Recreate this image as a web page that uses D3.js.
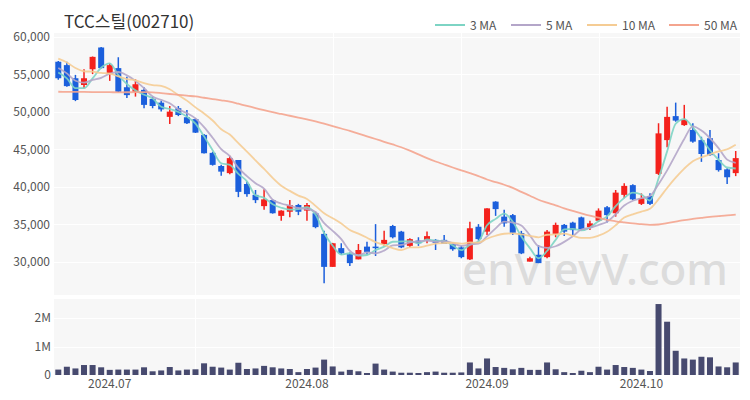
<!DOCTYPE html>
<html><head><meta charset="utf-8">
<script src="https://cdn.jsdelivr.net/npm/d3@7"></script>
<style>body{margin:0;background:#fff;} svg{display:block;font-family:"Noto Sans CJK KR","Noto Sans",sans-serif;}</style>
</head><body><svg id="c" width="750" height="400"></svg>
<script>
const dates = [
"2024-06-21","2024-06-24","2024-06-25","2024-06-26","2024-06-27","2024-06-28",
"2024-07-01","2024-07-02","2024-07-03","2024-07-04","2024-07-05","2024-07-08","2024-07-09","2024-07-10","2024-07-11","2024-07-12",
"2024-07-15","2024-07-16","2024-07-17","2024-07-18","2024-07-19","2024-07-22","2024-07-23","2024-07-24","2024-07-25","2024-07-26",
"2024-07-29","2024-07-30","2024-07-31",
"2024-08-01","2024-08-02","2024-08-05","2024-08-06","2024-08-07","2024-08-08","2024-08-09","2024-08-12","2024-08-13","2024-08-14",
"2024-08-16","2024-08-19","2024-08-20","2024-08-21","2024-08-22","2024-08-23","2024-08-26","2024-08-27","2024-08-28","2024-08-29","2024-08-30",
"2024-09-02","2024-09-03","2024-09-04","2024-09-05","2024-09-06","2024-09-09","2024-09-10","2024-09-11","2024-09-12","2024-09-13",
"2024-09-19","2024-09-20","2024-09-23","2024-09-24","2024-09-25","2024-09-26","2024-09-27","2024-09-30",
"2024-10-02","2024-10-04","2024-10-07","2024-10-08","2024-10-10","2024-10-11","2024-10-14","2024-10-15","2024-10-16","2024-10-17","2024-10-18","2024-10-21"];

const opens = [56700,56250,54500,53600,55700,58600,55050,55850,53300,52700,52950,51750,51250,49350,50500,49300,49050,46950,44550,42800,
41850,43600,40400,38950,37450,38250,36150,36700,37600,36850,36500,33750,29350,31850,31050,30350,32050,32050,32400,34800,
34050,32150,32850,32850,32950,32950,32400,31950,30350,34700,34050,38050,36050,36250,33850,30050,30950,30650,33750,34950,
35250,35950,34650,35500,37300,36500,38950,40250,37750,38800,41750,46250,49450,48250,47600,46250,46500,43600,42350,41850];
const highs = [56800,56700,54950,55700,57400,58650,56500,57300,54700,54350,53300,52050,51500,50800,50800,50250,49150,47050,44700,42950,
44150,43600,40700,39600,39700,38350,36900,38250,37750,37850,36700,34150,32550,32500,31250,32400,32700,35050,34150,34950,
34150,33150,33300,34050,33050,33600,32500,32150,35350,35050,37150,38100,36950,36400,34150,30700,32250,34250,35250,35050,
35350,36050,35500,37150,37450,39600,40500,40350,39150,39150,48500,50700,51250,50950,48500,46700,47600,44500,42500,44800];
const lows = [54300,53350,51450,53150,55050,55800,54150,52650,51850,52050,50500,50500,50050,48400,49450,48400,47200,44450,42850,41500,
41700,38650,38700,37850,36950,36450,35500,35950,36250,35500,34500,27150,29350,30950,29450,30350,30950,30800,32150,33150,
31850,31950,32150,32500,31600,32400,31500,30500,30250,32850,33600,36150,34700,33600,31050,30050,29850,30500,33300,33450,
33600,34250,34250,35350,35250,36050,38500,38250,37600,37600,41600,45300,48700,48150,45900,43350,44150,42050,40400,41450];
const closes = [54500,53450,51600,54500,57350,55850,56250,52700,52250,53700,50950,50800,50350,50050,49600,48500,47250,44500,42950,42050,
43850,39350,39050,38250,38350,36500,36850,37600,36700,37600,34650,29350,32500,31150,29850,31600,31350,31850,32950,33300,
31950,33050,32500,33450,32550,32400,31700,30650,34500,33050,37150,37050,35150,33900,31150,30500,29850,34050,34950,34050,
34250,34350,35150,36850,36250,39250,40150,38350,38500,37750,47150,49350,48850,48950,46050,44400,44250,42250,41300,43850];
const volumes = [190000,290000,230000,350000,350000,270000,180000,190000,190000,190000,270000,130000,160000,280000,160000,190000,200000,410000,290000,260000,
190000,430000,210000,230000,320000,270000,230000,210000,100000,210000,260000,540000,300000,120000,180000,130000,70000,400000,190000,120000,
80000,80000,70000,100000,120000,80000,80000,90000,440000,230000,580000,280000,250000,200000,250000,180000,180000,440000,200000,100000,
70000,150000,100000,290000,190000,350000,280000,250000,190000,140000,2490000,1870000,850000,580000,540000,640000,620000,300000,270000,440000];
// closes before the first visible day (used only for the 3/5/10 day averages)
const priorCloses = [58500,59000,58800,58000,57500,57000,56500,55800,55500];
// 50-day moving average
const ma50 = [52700,52690,52680,52670,52660,52650,52640,52620,52630,52640,52650,52620,52520,52400,52290,52170,52070,51900,51730,51560,
51380,51100,50810,50530,50240,49970,49740,49500,49260,49020,48760,48450,48130,47800,47480,47130,46760,46400,46030,45670,
45300,44850,44350,43850,43400,43000,42600,42220,41840,41450,41000,40650,40300,39880,39350,38840,38300,37920,37560,37160,
36810,36480,36170,35900,35620,35430,35280,35140,35040,34950,35000,35190,35380,35590,35740,35890,36030,36120,36210,36330];

const priceTicks = [30000,35000,40000,45000,50000,55000,60000];
const volumeTicks = [0,1000000,2000000];
const monthTicks = ["2024-07-01","2024-08-01","2024-09-02","2024-10-02"];
const monthLabels = ["2024.07","2024.08","2024.09","2024.10"];
const gridDays = ["2024-07-15","2024-08-06","2024-08-28","2024-09-24"];
const maNames = ["3 MA","5 MA","10 MA","50 MA"];
const maColors = ["#7dd4c4","#b4a6c9","#f5cc94","#f4a48e"];

const svg = d3.select("#c");
const L = 54, R = 740;
const mainTop = 33, mainBot = 295, volTop = 299, volBot = 375;
const upColor = "#f4211c", downColor = "#1b5fdc";

const x = d3.scaleBand().domain(dates).range([L, R]).paddingInner(0.3).paddingOuter(0.15);
const cx = d => x(d) + x.bandwidth()/2;
const y = d3.scaleLinear().domain([25600, 60533]).range([mainBot, mainTop]);
const yv = d3.scaleLinear().domain([0, 2667000]).range([volBot, volTop]);

// backgrounds
svg.append("rect").attr("x",L).attr("y",mainTop).attr("width",R-L).attr("height",mainBot-mainTop).attr("fill","#f7f7f7");
svg.append("rect").attr("x",L).attr("y",volTop).attr("width",R-L).attr("height",volBot-volTop).attr("fill","#f7f7f7");

// grid
const g = svg.append("g").attr("stroke","#ffffff").attr("stroke-width",1);
priceTicks.forEach(t => g.append("line").attr("x1",L).attr("x2",R).attr("y1",Math.round(y(t))+0.5).attr("y2",Math.round(y(t))+0.5));
volumeTicks.slice(1).forEach(t => g.append("line").attr("x1",L).attr("x2",R).attr("y1",Math.round(yv(t))+0.5).attr("y2",Math.round(yv(t))+0.5));
gridDays.forEach(d => {
  const px = Math.round(cx(d))+0.5;
  g.append("line").attr("x1",px).attr("x2",px).attr("y1",mainTop).attr("y2",mainBot);
  g.append("line").attr("x1",px).attr("x2",px).attr("y1",volTop).attr("y2",volBot);
});

// axes
const yAxis = d3.axisLeft(y).tickValues(priceTicks).tickFormat(d3.format(",")).tickSize(0).tickPadding(4);
const ya = svg.append("g").attr("transform",`translate(${L},0)`).call(yAxis);
const vAxis = d3.axisLeft(yv).tickValues(volumeTicks).tickFormat(d => d===0 ? "0" : (d/1e6)+"M").tickSize(0).tickPadding(3);
const va = svg.append("g").attr("transform",`translate(${L},0)`).call(vAxis);
const xAxis = d3.axisBottom(x).tickValues(monthTicks).tickFormat((d,i) => monthLabels[i]).tickSize(0).tickPadding(4);
const xa = svg.append("g").attr("transform",`translate(0,${volBot})`).call(xAxis);
[ya,va,xa].forEach(a => {
  a.select(".domain").remove();
  a.selectAll("text").attr("fill","#555").style("font-size","12px").style("font-family","'Noto Sans CJK KR','Noto Sans',sans-serif");
});

// watermark
svg.append("text").attr("x",462).attr("y",285).text("enVievV.com")
  .attr("textLength",266).attr("lengthAdjust","spacingAndGlyphs")
  .attr("fill","#dcdcdc").style("font-size","44px").style("font-weight","500")
  .style("font-family","'Noto Sans','DejaVu Sans',sans-serif");

// candles
const bw = x.bandwidth();
const cg = svg.append("g");
dates.forEach((d,i) => {
  const up = closes[i] >= opens[i];
  const col = up ? upColor : downColor;
  cg.append("line").attr("x1",cx(d)).attr("x2",cx(d)).attr("y1",y(highs[i])).attr("y2",y(lows[i]))
    .attr("stroke",col).attr("stroke-width",1.5);
  const top = y(Math.max(opens[i],closes[i])), bot = y(Math.min(opens[i],closes[i]));
  cg.append("rect").attr("x",x(d)).attr("width",bw).attr("y",top).attr("height",Math.max(1.5,bot-top)).attr("fill",col);
});

// volume bars
svg.append("g").selectAll("rect").data(dates).join("rect")
  .attr("x",d=>x(d)).attr("width",bw)
  .attr("y",(d,i)=>yv(volumes[i])).attr("height",(d,i)=>volBot-yv(volumes[i]))
  .attr("fill","#474a6f");

// moving averages
const allCloses = priorCloses.concat(closes);
const off = priorCloses.length;
const ma = n => closes.map((c,i) => d3.mean(allCloses.slice(i+off-n+1, i+off+1)));
const maSeries = [ma(3), ma(5), ma(10), ma50];
const line = d3.line().x((v,i)=>cx(dates[i])).y(v=>y(v)).curve(d3.curveMonotoneX);
maSeries.forEach((s,k) => {
  svg.append("path").attr("d",line(s)).attr("fill","none").attr("stroke",maColors[k])
    .attr("stroke-width",1.8).attr("stroke-opacity",0.9);
});

// title
svg.append("text").attr("x",64).attr("y",28).text("TCC스틸(002710)")
  .attr("fill","#333").style("font-size","17px");

// legend
const legX = [435,511,587,669];
maNames.forEach((n,k) => {
  svg.append("line").attr("x1",legX[k]).attr("x2",legX[k]+30).attr("y1",25).attr("y2",25)
    .attr("stroke",maColors[k]).attr("stroke-width",2);
  svg.append("text").attr("x",legX[k]+35).attr("y",29.5).text(n).attr("fill","#555").style("font-size","12px");
});
</script></body></html>
